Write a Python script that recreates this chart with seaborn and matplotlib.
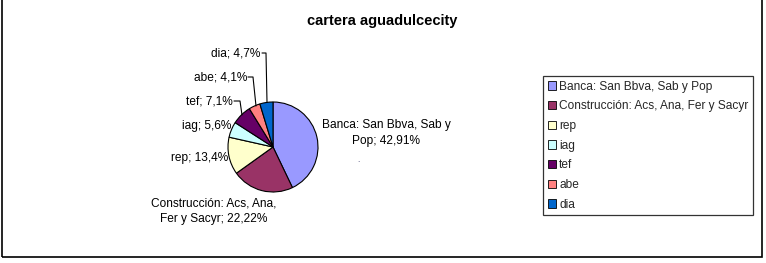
import matplotlib
matplotlib.use("Agg")
import matplotlib.pyplot as plt
import matplotlib.patches as mpatches
import seaborn as sns

sns.set_theme(style="white")
plt.rcParams['font.family'] = ['Liberation Sans', 'DejaVu Sans']

# ---- data ----
categories = ["Banca: San Bbva, Sab y Pop", "Construcción: Acs, Ana, Fer y Sacyr",
              "rep", "iag", "tef", "abe", "dia"]
values = [42.91, 22.22, 13.4, 5.6, 7.1, 4.1, 4.7]
value_labels = ["42,91%", "22,22%", "13,4%", "5,6%", "7,1%", "4,1%", "4,7%"]
short_names = ["Banca: San Bbva, Sab y\nPop", "Construcción: Acs, Ana,\nFer y Sacyr",
               "rep", "iag", "tef", "abe", "dia"]
colors = sns.color_palette(["#9999FF", "#993366", "#FFFFCC", "#CCFFFF",
                            "#660066", "#FF8080", "#0066CC"])
title = "cartera aguadulcecity"

W, H = 766, 263
fig = plt.figure(figsize=(W / 100, H / 100), dpi=100)
ax = fig.add_axes([0, 0, 1, 1])

def Y(y):
    return H - y

cx, cy, r = 273, 147, 45
ax.pie(values, colors=colors, startangle=90, counterclock=False,
       center=(cx, Y(cy)), radius=r,
       wedgeprops=dict(edgecolor="black", linewidth=0.8))
ax.set_xlim(0, W)
ax.set_ylim(0, H)
ax.set_aspect("equal")
ax.axis("off")

fs = 8.6
# data labels
pos = [
    (386, 133, "center", "center"),
    (214, 211, "center", "center"),
    (228, 158, "right", "center"),
    (231, 126, "right", "center"),
    (233, 101, "right", "center"),
    (247, 77, "right", "center"),
    (260, 53, "right", "center"),
]
for (x, y, ha, va), nm, vl in zip(pos, short_names, value_labels):
    ax.text(x, Y(y), f"{nm}; {vl}", ha=ha, va=va, fontsize=fs,
            multialignment="center", color="black", linespacing=1.35)

# leader lines
leaders = [
    [(262, 53), (266, 53), (267, 102)],
    [(248, 77), (253, 77), (256, 106)],
    [(234, 101), (240, 101), (242, 115)],
]
for pts in leaders:
    ax.plot([p[0] for p in pts], [Y(p[1]) for p in pts], color="black", lw=0.8)

ax.text(358, Y(161), ".", fontsize=6, color="#333366", ha="center", va="center")

# title
ax.text(382, Y(21), title, ha="center", va="center", fontsize=10.5,
        fontweight="bold", color="black")

# legend
handles = [mpatches.Patch(facecolor=c, edgecolor="black", linewidth=0.6, label=l)
           for c, l in zip(colors, categories)]
leg = ax.legend(handles=handles, loc="upper left",
                bbox_to_anchor=(543 / W, 1 - 76 / H), bbox_transform=fig.transFigure,
                fontsize=fs, frameon=True, fancybox=False, borderpad=0.4,
                handlelength=0.7, handleheight=0.7, handletextpad=0.25,
                labelspacing=0.64, borderaxespad=0)
leg.get_frame().set_edgecolor("black")
leg.get_frame().set_linewidth(0.9)

# chart area border
ax.add_patch(mpatches.Rectangle((2, Y(257)), 760, 270, fill=False,
                                edgecolor="black", lw=1.2, clip_on=True))

fig.savefig("out.png", dpi=100)
